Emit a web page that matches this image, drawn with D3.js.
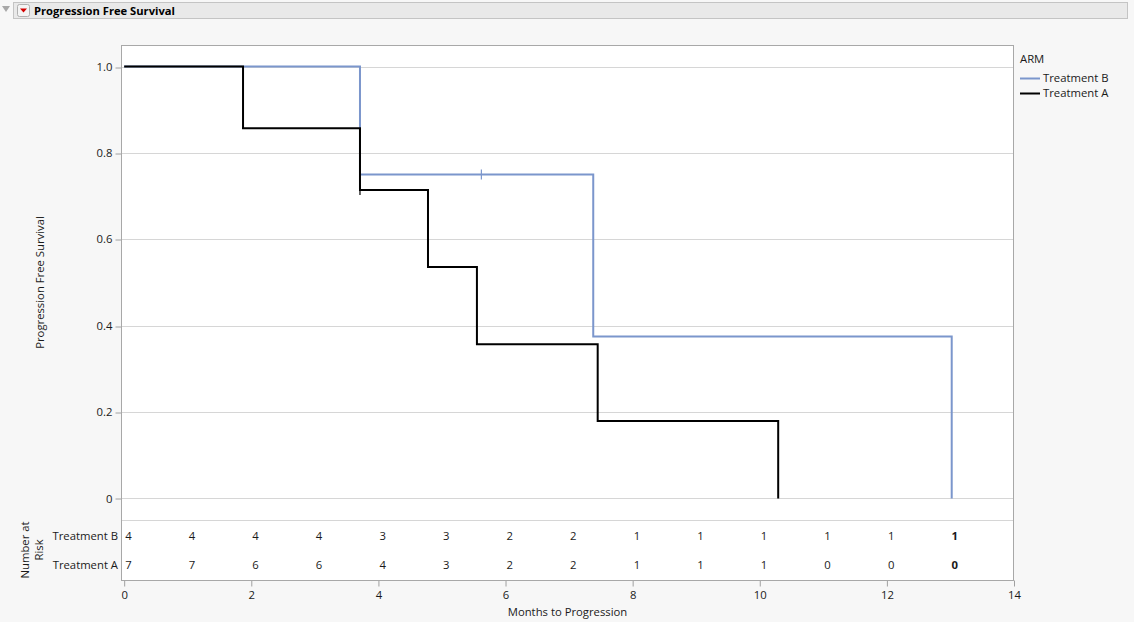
<!DOCTYPE html>
<html>
<head>
<meta charset="utf-8">
<script src="https://cdn.jsdelivr.net/npm/d3@7"></script>
<style>
  body { margin: 0; background: #f7f7f7; font-family: "Open Sans", "Noto Sans", sans-serif; }
  svg text { font-family: "Open Sans", "Noto Sans", sans-serif; }
</style>
</head>
<body>
<svg id="chart"></svg>
<script>
const svg_w = 1134;
const svg_h = 622;
const fs = 11.3; // tamaño de letra

// márgenes del área de la gráfica
const frame = {l:121, r:1014, t:45, b:520, axis:580};

// datos
const arms = ["Treatment B", "Treatment A"];
const arm_colors = ["#7b96cc", "#000000"];
// pasos de la curva: [tiempo, supervivencia]
const steps_b = [[0,1],[3.71,0.75],[7.38,0.375],[13.02,0]];
const steps_a = [[0,1],[1.87,0.857],[3.71,0.714],[4.78,0.536],[5.55,0.357],[7.45,0.179],[10.29,0]];
// marcas de censura
const censor_b = [[5.62,0.75]];
const censor_a = [[3.71,0.714]];
// número en riesgo
const risk_times = [0,1,2,3,4,5,6,7,8,9,10,11,12,13];
const risk_b = [4,4,4,4,3,3,2,2,1,1,1,1,1,1];
const risk_a = [7,7,6,6,4,3,2,2,1,1,1,0,0,0];
const x_ticks = [0,2,4,6,8,10,12,14];
const y_ticks = [0,0.2,0.4,0.6,0.8,1.0];

let svg = d3.select("#chart")
  .attr("width", svg_w)
  .attr("height", svg_h);

// barra de título
svg.append("rect")
  .attr("x", 13.5).attr("y", 2.5).attr("width", 1114).attr("height", 16)
  .attr("fill", "#e9e9e9").attr("stroke", "#c4c4c4");
svg.append("path")
  .attr("d", "M2,6 L10,6 L6,12 Z")
  .attr("fill", "#a8a8a8");
svg.append("rect")
  .attr("x", 17.5).attr("y", 4.5).attr("width", 12).attr("height", 12).attr("rx", 2)
  .attr("fill", "#f4f4f4").attr("stroke", "#b0b0b0");
svg.append("path")
  .attr("d", "M20,8.5 L27,8.5 L23.5,12.5 Z")
  .attr("fill", "#d40000");
svg.append("text")
  .attr("x", 34).attr("y", 15)
  .attr("font-size", 11.2).attr("font-weight", "bold")
  .attr("fill", "#000")
  .text("Progression Free Survival");

// escalas
let x_scale = d3.scaleLinear().domain([-0.05,14]).range([frame.l, frame.r]);
let y_scale = d3.scaleLinear().domain([-0.05,1.05]).range([frame.b, frame.t]);

// fondo blanco de la gráfica
svg.append("rect")
  .attr("x", frame.l).attr("y", frame.t)
  .attr("width", frame.r - frame.l).attr("height", frame.axis - frame.t)
  .attr("fill", "#fff");

// líneas de cuadrícula
svg.append("g")
  .selectAll("line")
  .data(y_ticks)
  .enter()
  .append("line")
  .attr("x1", frame.l).attr("x2", frame.r)
  .attr("y1", d => Math.round(y_scale(d)) + 0.5)
  .attr("y2", d => Math.round(y_scale(d)) + 0.5)
  .attr("stroke", "#d6d6d6");

// separador con la tabla de número en riesgo
svg.append("line")
  .attr("x1", frame.l).attr("x2", frame.r)
  .attr("y1", frame.b + 0.5).attr("y2", frame.b + 0.5)
  .attr("stroke", "#d6d6d6");

// eje y
let y_axis = svg.append("g")
  .attr("transform", `translate(${frame.l + 0.5},0)`)
  .call(d3.axisLeft(y_scale).tickValues(y_ticks).tickSize(6).tickPadding(3)
    .tickFormat(d => d === 0 ? "0" : d3.format(".1f")(d)));
y_axis.select(".domain").remove();
y_axis.selectAll(".tick line").attr("stroke", "#a0a0a0")
  .attr("transform", d => `translate(0,${Math.round(y_scale(d)) + 0.5 - y_scale(d)})`);
y_axis.selectAll("text").attr("font-size", fs).attr("fill", "#1a1a1a")
  .attr("font-family", "Open Sans, sans-serif");

// eje x
let x_axis = svg.append("g")
  .attr("transform", `translate(0,${frame.axis + 0.5})`)
  .call(d3.axisBottom(x_scale).tickValues(x_ticks).tickSize(6).tickPadding(4));
x_axis.select(".domain").remove();
x_axis.selectAll(".tick line").attr("stroke", "#a0a0a0");
x_axis.selectAll("text").attr("font-size", fs).attr("fill", "#1a1a1a")
  .attr("font-family", "Open Sans, sans-serif");

// marco
svg.append("rect")
  .attr("x", frame.l + 0.5).attr("y", frame.t + 0.5)
  .attr("width", frame.r - frame.l - 1).attr("height", frame.axis - frame.t)
  .attr("fill", "none").attr("stroke", "#a8a8a8");

// curvas de supervivencia
function curve_points(steps) {
  let pts = [];
  steps.forEach((s, i) => {
    if (i > 0) pts.push([s[0], steps[i-1][1]]);
    pts.push(s);
  });
  return pts;
}
let line = d3.line().x(d => x_scale(d[0])).y(d => y_scale(d[1]));

let curves = [
  {pts: curve_points(steps_b), censor: censor_b, color: arm_colors[0]},
  {pts: curve_points(steps_a), censor: censor_a, color: arm_colors[1]}
];

curves.forEach(c => {
  svg.append("path")
    .attr("d", line(c.pts))
    .attr("fill", "none")
    .attr("stroke", c.color)
    .attr("stroke-width", 2);
  svg.append("g")
    .selectAll("line")
    .data(c.censor)
    .enter()
    .append("line")
    .attr("x1", d => x_scale(d[0])).attr("x2", d => x_scale(d[0]))
    .attr("y1", d => y_scale(d[1]) - 5).attr("y2", d => y_scale(d[1]) + 5)
    .attr("stroke", c.color)
    .attr("stroke-width", 1.2);
});

// tabla de número en riesgo
let risk_rows = [
  {label: arms[0], values: risk_b, y: 540},
  {label: arms[1], values: risk_a, y: 569}
];
risk_rows.forEach(r => {
  svg.append("text")
    .attr("x", frame.l - 3).attr("y", r.y)
    .attr("text-anchor", "end")
    .attr("font-size", fs).attr("fill", "#1a1a1a")
    .text(r.label);
  svg.append("g")
    .selectAll("text")
    .data(r.values)
    .enter()
    .append("text")
    .attr("x", (d, i) => x_scale(risk_times[i]) + 1)
    .attr("y", r.y)
    .attr("font-size", fs)
    .attr("font-weight", (d, i) => i === risk_times.length - 1 ? "bold" : "normal")
    .attr("fill", "#1a1a1a")
    .text(d => d);
});

// títulos de ejes
svg.append("text")
  .attr("transform", `translate(44,${(frame.t + frame.b) / 2}) rotate(-90)`)
  .attr("text-anchor", "middle")
  .attr("font-size", fs).attr("fill", "#1a1a1a")
  .text("Progression Free Survival");

let nar = svg.append("text")
  .attr("transform", `translate(29,550) rotate(-90)`)
  .attr("text-anchor", "middle")
  .attr("font-size", fs).attr("fill", "#1a1a1a");
nar.append("tspan").attr("x", 0).attr("dy", 0).text("Number at");
nar.append("tspan").attr("x", 0).attr("dy", 14).text("Risk");

svg.append("text")
  .attr("x", (frame.l + frame.r) / 2).attr("y", 616)
  .attr("text-anchor", "middle")
  .attr("font-size", fs).attr("fill", "#1a1a1a")
  .text("Months to Progression");

// leyenda
let legend = svg.append("g").attr("transform", "translate(1020,0)");
legend.append("text")
  .attr("x", 0).attr("y", 63)
  .attr("font-size", fs).attr("fill", "#1a1a1a")
  .text("ARM");
arms.forEach((a, i) => {
  let y = 78 + i * 15;
  legend.append("line")
    .attr("x1", 0).attr("x2", 20).attr("y1", y + 0.5).attr("y2", y + 0.5)
    .attr("stroke", arm_colors[i]).attr("stroke-width", 2);
  legend.append("text")
    .attr("x", 23).attr("y", y + 4)
    .attr("font-size", fs).attr("fill", "#1a1a1a")
    .text(a);
});
</script>
</body>
</html>
